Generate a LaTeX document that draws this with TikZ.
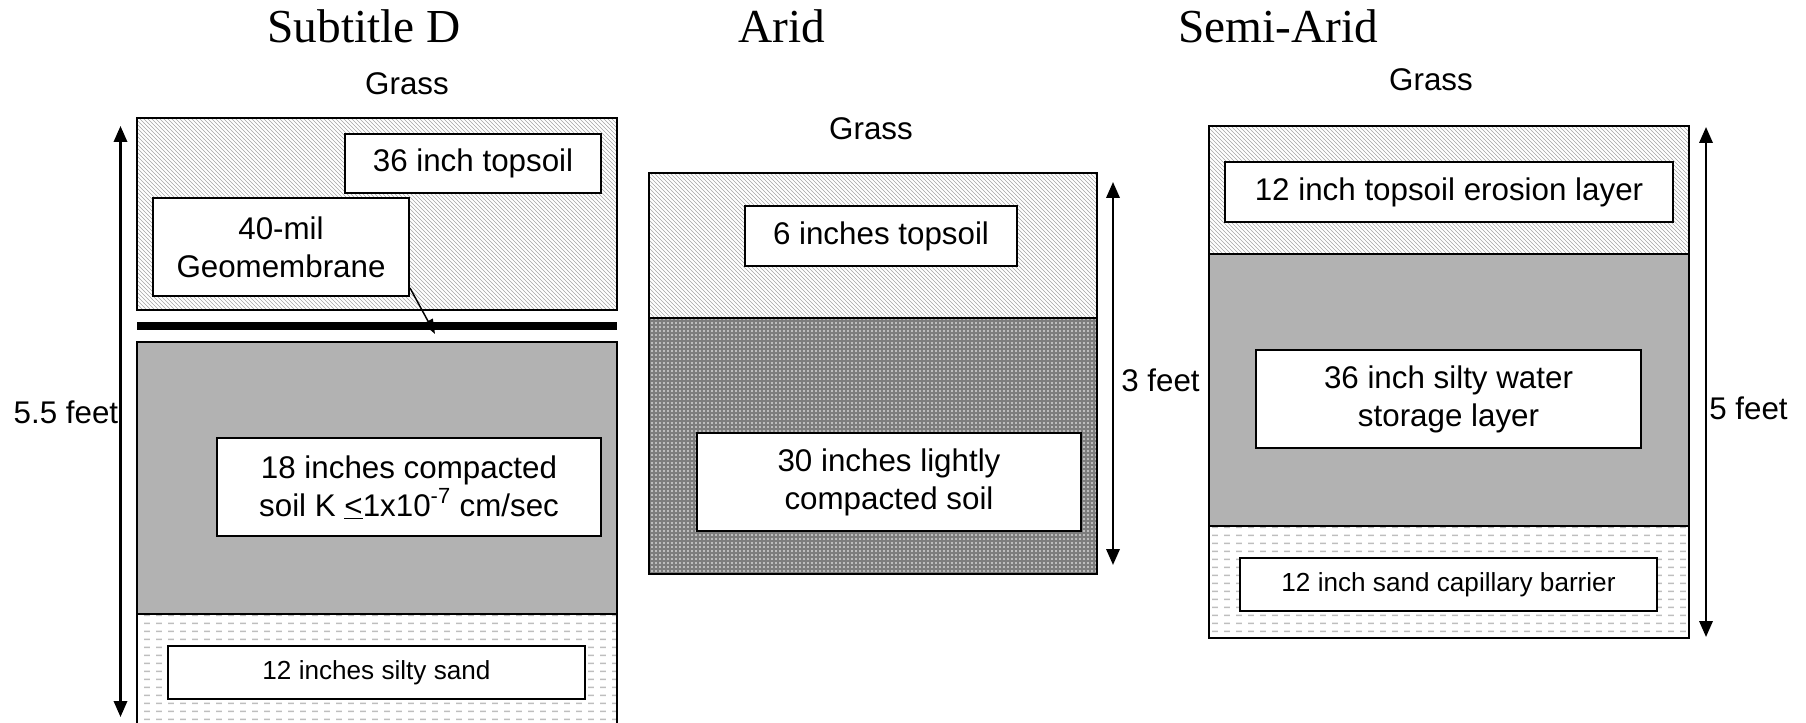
\documentclass[tikz,border=0pt]{standalone}
\usepackage{fontspec}
\setmainfont{Liberation Sans}
\newfontfamily\titlefont{Liberation Serif}
\usetikzlibrary{patterns,fit,arrows.meta}
\pgfdeclarepatternformonly{sanddash}{\pgfpoint{0pt}{0pt}}{\pgfpoint{9pt}{6pt}}{\pgfpoint{9pt}{6pt}}{%
  \pgfsetlinewidth{1.3pt}%
  \pgfpathmoveto{\pgfpoint{0pt}{3pt}}\pgfpathlineto{\pgfpoint{4.8pt}{3pt}}\pgfusepath{stroke}}
\pgfdeclarepatternformonly{bigdots}{\pgfpoint{-1pt}{-1pt}}{\pgfpoint{1pt}{1pt}}{\pgfpoint{3pt}{3pt}}{%
  \pgfpathcircle{\pgfpointorigin}{0.7pt}\pgfusepath{fill}}
\definecolor{soilgray}{RGB}{178,178,178}
\definecolor{dotgray}{RGB}{125,125,125}
\definecolor{hatchgray}{RGB}{165,165,165}
\definecolor{sandgray}{RGB}{190,190,190}
\newcommand\lblfont{\fontsize{23.5}{28.5}\selectfont}
\newcommand\smlfont{\fontsize{19.6}{23}\selectfont}
\tikzset{
  layer/.style={draw, line width=1.9pt, inner sep=0pt, outer sep=0pt},
  topsoil/.style={layer, pattern=north west lines, pattern color=hatchgray},
  clay/.style={layer, fill=soilgray},
  dotsoil/.style={layer, preaction={fill=dotgray}, pattern=bigdots, pattern color=white},
  sand/.style={layer, pattern=sanddash, pattern color=sandgray},
  lbl/.style={draw, line width=1.9pt, fill=white, inner sep=0pt, outer sep=0pt, align=center, font=\lblfont},
  smalllbl/.style={lbl, font=\smlfont},
  sz/.style 2 args={minimum width=#1*0.75pt, minimum height=#2*0.75pt},
  dim/.style={line width=1.8pt, {Triangle[length=12pt,width=10pt]}-{Triangle[length=12pt,width=10pt]}},
  ptr/.style={line width=1.1pt, -{Triangle[length=11pt,width=8pt]}},
  titletxt/.style={font=\titlefont\fontsize{35.5}{40}\selectfont, anchor=base, inner sep=0pt},
  txt/.style={font=\lblfont, inner sep=0pt}
}
\begin{document}
\begin{tikzpicture}[x=0.75pt,y=-0.75pt]
\useasboundingbox (0,0) rectangle (1806,723);
\clip (0,0) rectangle (1806,723);

% titles
\node[titletxt] (t1) at (364,43) {Subtitle D};
\node[titletxt] (t2) at (782,43) {Arid};
\node[titletxt] (t3) at (1278,43) {Semi-Arid};

% grass
\node[txt, anchor=base] (g1) at (407,95) {Grass};
\node[txt, anchor=base] (g2) at (871,140) {Grass};
\node[txt, anchor=base] (g3) at (1431,91) {Grass};

% Subtitle D
\node[topsoil, fit={(137,118)(617,310)}] (d1top) {};
\node[fill=black, inner sep=0pt, outer sep=0pt, fit={(137,322)(617,330)}] (geo) {};
\node[clay, fit={(137,342)(617,614)}] (d1clay) {};
\node[sand, fit={(137,614)(617,745)}] (d1sand) {};
\node[lbl, sz={256}{59}] (d1tsl) at (473,163.5) {36 inch topsoil};
\node[lbl, sz={256}{98}] (mil) at (281,247) {40-mil\\Geomembrane};
\node[lbl, sz={384}{98}] (d1cl) at (409,487) {18 inches compacted\\soil K \underline{<}1x10\textsuperscript{-7} cm/sec};
\node[smalllbl, sz={417}{53}] (d1sl) at (376.5,672.5) {12 inches silty sand};
\coordinate (geotip) at (435,334);
\draw[ptr] ([shift={(1,-8)}]mil.south east) -- (geotip);
\coordinate (a1t) at (120.5,126);
\coordinate (a1b) at (120.5,717);
\draw[dim] (a1b) -- (a1t);
\node[txt, anchor=east] (h1) at (118.5,412) {5.5 feet};

% Arid
\node[topsoil, fit={(649,173)(1097,318)}] (a2top) {};
\node[dotsoil, fit={(649,318)(1097,574)}] (a2dot) {};
\node[lbl, sz={272}{60}] (a2tsl) at (881,236) {6 inches topsoil};
\node[lbl, sz={384}{98}] (a2cl) at (889,482) {30 inches lightly\\compacted soil};
\coordinate (a2t) at (1113,182);
\coordinate (a2b) at (1113,565);
\draw[dim] (a2b) -- (a2t);
\node[txt, anchor=west] (h2) at (1121,380) {3 feet};

% Semi-Arid
\node[topsoil, fit={(1209,126)(1689,254)}] (s3top) {};
\node[clay, fit={(1209,254)(1689,526)}] (s3clay) {};
\node[sand, fit={(1209,526)(1689,638)}] (s3sand) {};
\node[lbl, sz={448}{60}] (s3tsl) at (1449,192) {12 inch topsoil erosion layer};
\node[lbl, sz={385}{98}] (s3cl) at (1448.5,399) {36 inch silty water\\storage layer};
\node[smalllbl, sz={417}{53}] (s3sl) at (1448.5,584.5) {12 inch sand capillary barrier};
\coordinate (a3t) at (1706,127);
\coordinate (a3b) at (1706,637);
\draw[dim] (a3b) -- (a3t);
\node[txt, anchor=west] (h3) at (1709,408) {5 feet};
\end{tikzpicture}
\end{document}
